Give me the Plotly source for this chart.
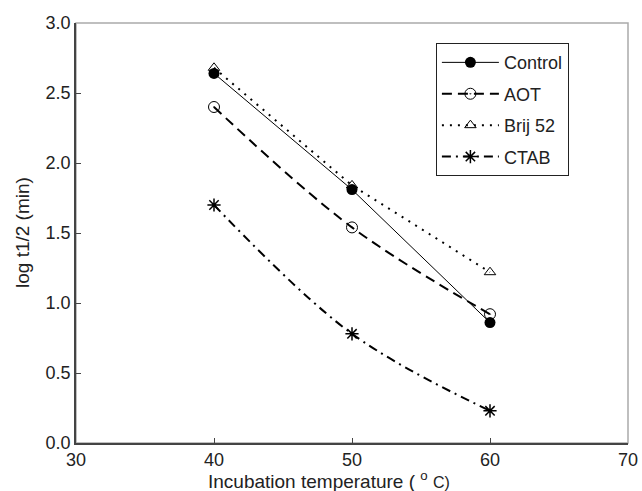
import plotly.graph_objects as go

temps = [40, 50, 60]
control = [2.64, 1.81, 0.86]
aot = [2.40, 1.54, 0.92]
brij52 = [2.68, 1.84, 1.22]
ctab = [1.70, 0.78, 0.23]

x_ticks = [30, 40, 50, 60, 70]
y_ticks = [0.0, 0.5, 1.0, 1.5, 2.0, 2.5, 3.0]

fig = go.Figure()
fig.add_trace(go.Scatter(x=temps, y=control, name="Control", mode="lines+markers",
                         line=dict(color="black", width=1),
                         marker=dict(symbol="circle", size=11, color="black"),
                         legendgroup="a"))
fig.add_trace(go.Scatter(x=temps, y=aot, name="AOT", mode="lines+markers",
                         line=dict(color="black", width=2, dash="10px,6px", shape="spline"),
                         marker=dict(symbol="circle-open-dot", size=11, color="black", line=dict(width=1)),
                         legendgroup="b"))
fig.add_trace(go.Scatter(x=temps, y=brij52, name="Brij 52", mode="lines+markers",
                         line=dict(color="black", width=2, dash="2px,6px"),
                         marker=dict(symbol="triangle-up-open", size=10, color="black", line=dict(width=1)),
                         legendgroup="c"))
fig.add_trace(go.Scatter(x=temps, y=ctab, name="CTAB", mode="lines+markers",
                         line=dict(color="black", width=2, dash="9px,5px,2px,5px", shape="spline"),
                         marker=dict(symbol="asterisk-open", size=11, color="black", line=dict(width=1.5)),
                         legendgroup="d"))

font = "Liberation Sans, Arial, sans-serif"
fig.update_layout(
    width=642, height=491,
    margin=dict(l=76, r=14, t=23, b=48, autoexpand=False),
    paper_bgcolor="white", plot_bgcolor="white",
    font=dict(family=font, size=18, color="#222"),
    showlegend=True,
    legend=dict(x=0.652, y=0.952, xanchor="left", yanchor="top",
                bordercolor="#222", borderwidth=1, bgcolor="white",
                font=dict(size=18, family=font, color="#222"),
                itemwidth=57, traceorder="grouped", tracegroupgap=5),
    xaxis=dict(range=[30, 70], tickvals=x_ticks, ticks="inside", ticklen=5,
               tickcolor="#444", showline=True, linecolor="#444", linewidth=1.5,
               showgrid=False, zeroline=False, automargin=False,
               tickfont=dict(size=18)),
    yaxis=dict(range=[0, 3], tickvals=y_ticks, tickformat=".1f", ticks="inside", ticklen=5,
               tickcolor="#444", showline=True, linecolor="#444", linewidth=1.5,
               showgrid=False, zeroline=False, automargin=False,
               tickfont=dict(size=18)),
    shapes=[dict(type="rect", xref="paper", yref="paper", x0=0, y0=0, x1=1, y1=1,
                 line=dict(color="#aaa", width=1.5), layer="below")],
    annotations=[
        dict(text="Incubation temperature ( <sup>o</sup> <span style='font-size:16px'>C)</span>",
             xref="paper", yref="paper",
             x=0.5, y=0, xanchor="center", yanchor="middle", xshift=-23, yshift=-37,
             showarrow=False, font=dict(size=19)),
        dict(text="log t1/2 (min)", xref="paper", yref="paper", textangle=-90,
             x=0, y=0.5, xanchor="center", yanchor="middle", xshift=-54,
             showarrow=False, font=dict(size=19)),
    ],
)

fig.write_html("out.html", config={"displayModeBar": False},
               post_script="document.body.style.margin='0';document.body.style.overflow='hidden';")
